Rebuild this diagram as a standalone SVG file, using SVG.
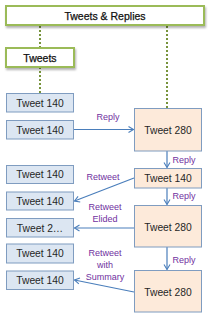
<svg xmlns="http://www.w3.org/2000/svg" width="212" height="320" viewBox="0 0 212 320">
<defs>
<marker id="ah" markerWidth="8" markerHeight="8" refX="6" refY="4" orient="auto" markerUnits="userSpaceOnUse">
<path d="M1,1 L6,4 L1,7" fill="none" stroke="#4A7EBB" stroke-width="1.1"/>
</marker>
<filter id="sh" x="-10%" y="-20%" width="130%" height="160%">
<feDropShadow dx="1" dy="2" stdDeviation="1" flood-color="#000" flood-opacity="0.3"/>
</filter>
</defs>
<style>
.hdr{fill:#fff;stroke:#9BBB59;stroke-width:2}
.blue{fill:#DCE6F2;stroke:#7F9CC0;stroke-width:1}
.org{fill:#FDEADA;stroke:#7F9CC0;stroke-width:1}
.dot{stroke:#77933C;stroke-width:2;stroke-dasharray:2,2;fill:none}
.arr{stroke:#4A7EBB;stroke-width:1.2;fill:none;marker-end:url(#ah)}
.t{font-family:"Liberation Sans",Arial,sans-serif;font-size:10.3px;fill:#262626;text-anchor:middle}
.b{font-family:"Liberation Sans",Arial,sans-serif;font-size:10.5px;fill:#111;stroke:#111;stroke-width:0.25;text-anchor:middle}
.l{font-family:"Liberation Sans",Arial,sans-serif;font-size:9px;fill:#7030A0;text-anchor:middle}
</style>
<g id="connectors">
<line class="dot" x1="40" y1="26" x2="40" y2="48"/>
<line class="dot" x1="40" y1="67" x2="40" y2="93"/>
<line class="dot" x1="167" y1="26" x2="167" y2="108"/>
<line class="arr" x1="73" y1="129.5" x2="133.5" y2="129.5"/>
<line class="arr" x1="167" y1="151" x2="167" y2="167.5"/>
<line class="arr" x1="167" y1="188" x2="167" y2="204.5"/>
<line class="arr" x1="167" y1="247" x2="167" y2="269.5"/>
<line class="arr" x1="134" y1="178" x2="74.5" y2="201"/>
<line class="arr" x1="134" y1="228" x2="74.5" y2="228"/>
<line class="arr" x1="134" y1="292" x2="74.5" y2="280"/>
<text class="l" x="108" y="120">Reply</text>
<text class="l" x="184" y="163">Reply</text>
<text class="l" x="184" y="199">Reply</text>
<text class="l" x="184" y="263">Reply</text>
<text class="l" x="103" y="180">Retweet</text>
<text class="l" x="105" y="210">Retweet</text>
<text class="l" x="105" y="222">Elided</text>
<text class="l" x="105" y="256">Retweet</text>
<text class="l" x="105" y="268">with</text>
<text class="l" x="105" y="280">Summary</text>
</g>
<g id="header"><rect class="hdr" x="6" y="6" width="198" height="19" filter="url(#sh)"/><text class="b" x="105" y="19.5">Tweets &amp; Replies</text></g>
<g id="tweets"><rect class="hdr" x="6" y="48" width="68" height="19" filter="url(#sh)"/><text class="b" x="40" y="61.5">Tweets</text></g>
<g id="l1"><rect class="blue" x="6.5" y="93.5" width="67" height="18.5"/><text class="t" x="40" y="106.5">Tweet 140</text></g>
<g id="l2"><rect class="blue" x="6.5" y="120.5" width="67" height="18.5"/><text class="t" x="40" y="133.5">Tweet 140</text></g>
<g id="l3"><rect class="blue" x="6.5" y="165.5" width="67" height="18"/><text class="t" x="40" y="178">Tweet 140</text></g>
<g id="l4"><rect class="blue" x="6.5" y="192" width="67" height="18"/><text class="t" x="40" y="204.5">Tweet 140</text></g>
<g id="l5"><rect class="blue" x="6.5" y="218.5" width="67" height="18.5"/><text class="t" x="40" y="231.5">Tweet 2…</text></g>
<g id="l6"><rect class="blue" x="6.5" y="244" width="67" height="19"/><text class="t" x="40" y="257">Tweet 140</text></g>
<g id="l7"><rect class="blue" x="6.5" y="271" width="67" height="18.5"/><text class="t" x="40" y="284">Tweet 140</text></g>
<g id="r1"><rect class="org" x="134.5" y="108.5" width="67" height="42.5"/><text class="t" x="168" y="133.5">Tweet 280</text></g>
<g id="r2"><rect class="org" x="134.5" y="168.5" width="67" height="19.5"/><text class="t" x="168" y="182">Tweet 140</text></g>
<g id="r3"><rect class="org" x="134.5" y="205.5" width="67" height="41.5"/><text class="t" x="168" y="231">Tweet 280</text></g>
<g id="r4"><rect class="org" x="134.5" y="270.5" width="67" height="41.5"/><text class="t" x="168" y="295.5">Tweet 280</text></g>
</svg>
